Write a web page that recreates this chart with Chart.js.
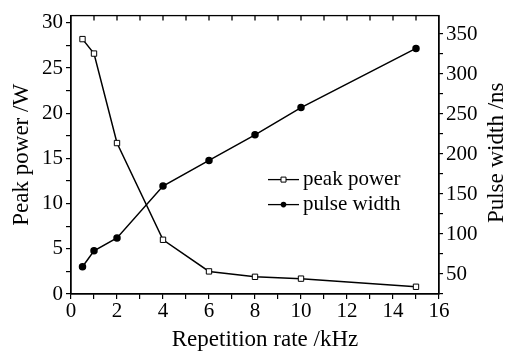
<!DOCTYPE html>
<html>
<head>
<meta charset="utf-8">
<script src="https://cdn.jsdelivr.net/npm/chart.js@4"></script>
<style>
  html, body { margin: 0; padding: 0; background: #fff; }
  #wrap { width: 507px; height: 352px; }
</style>
</head>
<body>
<div id="wrap"><canvas id="chart"></canvas></div>
<script>
// === DATA ===
const repRate = [0.5, 1, 2, 4, 6, 8, 10, 15];
const peakPower = [28.2, 26.6, 16.7, 6.0, 2.5, 1.9, 1.7, 0.8];
const pulseWidth = [59, 79, 95, 160, 192, 224, 258, 332];

const FONT = "'Liberation Serif', 'DejaVu Serif', serif";
const tickFont = { family: FONT, size: 21 };
const titleFont = { family: FONT, size: 23 };

// === FRAME, TOP TICKS, TITLES, LEGEND ===
const framePlugin = {
    id: "frame",
    afterDraw(chart) {
        const { ctx, chartArea: a, scales } = chart;
        ctx.save();
        ctx.strokeStyle = "#000";
        ctx.lineWidth = 1.3;
        ctx.strokeRect(a.left, a.top, a.right - a.left, a.bottom - a.top);

        // inward ticks on top edge
        for (let v = 1; v < 16; v++) {
            const x = scales.x.getPixelForValue(v);
            ctx.beginPath();
            ctx.moveTo(x, a.top);
            ctx.lineTo(x, a.top + 5);
            ctx.stroke();
        }

        ctx.fillStyle = "#000";
        ctx.font = titleFont.size + "px " + FONT;
        ctx.textAlign = "center";

        // bottom axis title
        ctx.textBaseline = "alphabetic";
        ctx.fillText("Repetition rate /kHz", (a.left + a.right) / 2 + 10, a.bottom + 52);

        // right axis title, reading bottom to top
        ctx.save();
        ctx.translate(a.right + 58, (a.top + a.bottom) / 2 - 2);
        ctx.rotate(-Math.PI / 2);
        ctx.textBaseline = "middle";
        ctx.fillText("Pulse width /ns", 0, 0);
        ctx.restore();

        // legend
        const lx = a.left + 197, ly = a.top + 164;
        chart.data.datasets.forEach((ds, i) => {
            const y = ly + i * 25;
            ctx.strokeStyle = "#000";
            ctx.lineWidth = 1.3;
            ctx.beginPath();
            ctx.moveTo(lx, y);
            ctx.lineTo(lx + 31, y);
            ctx.stroke();
            ctx.beginPath();
            if (i === 0) {
                ctx.fillStyle = "#fff";
                ctx.rect(lx + 13, y - 2.5, 5, 5);
                ctx.fill();
                ctx.lineWidth = 1;
                ctx.stroke();
            } else {
                ctx.fillStyle = "#000";
                ctx.arc(lx + 15.5, y, 2.8, 0, Math.PI * 2);
                ctx.fill();
            }
            ctx.fillStyle = "#000";
            ctx.font = "21px " + FONT;
            ctx.textAlign = "left";
            ctx.textBaseline = "middle";
            ctx.fillText(ds.label, lx + 35, y);
        });
        ctx.restore();
    }
};

new Chart(document.getElementById("chart"), {
    type: "line",
    data: {
        datasets: [{
            label: "peak power",
            data: repRate.map((x, i) => ({ x, y: peakPower[i] })),
            yAxisID: "y",
            borderColor: "#000",
            borderWidth: 1.5,
            pointStyle: "rect",
            pointRadius: 3.8,
            pointBackgroundColor: "#fff",
            pointBorderColor: "#000",
            pointBorderWidth: 1
        }, {
            label: "pulse width",
            data: repRate.map((x, i) => ({ x, y: pulseWidth[i] })),
            yAxisID: "y1",
            borderColor: "#000",
            borderWidth: 1.5,
            pointStyle: "circle",
            pointRadius: 3,
            pointBackgroundColor: "#000",
            pointBorderColor: "#000"
        }]
    },
    options: {
        responsive: true,
        maintainAspectRatio: false,
        animation: false,
        layout: { padding: { top: 13, left: 0, right: 0, bottom: 0 } },
        plugins: { legend: { display: false }, tooltip: { enabled: false } },
        scales: {
            x: {
                type: "linear",
                min: 0, max: 16,
                grid: { drawOnChartArea: false, color: "#000", tickLength: 5, lineWidth: 1.2 },
                border: { color: "#000", width: 1.3 },
                ticks: {
                    stepSize: 1, autoSkip: false, maxRotation: 0, padding: 0,
                    color: "#000", font: tickFont,
                    callback: v => (v % 2 === 0 ? v : "")
                },
                afterFit: s => { s.height = 58; }
            },
            y: {
                position: "left",
                min: 0, max: 30.8,
                grid: { drawOnChartArea: false, color: "#000", tickLength: 5, lineWidth: 1.2 },
                border: { color: "#000", width: 1.3 },
                ticks: {
                    stepSize: 2.5, includeBounds: false, autoSkip: false, padding: 3,
                    color: "#000", font: tickFont,
                    callback: v => (v % 5 === 0 ? v : "")
                },
                title: {
                    display: true, text: "Peak power /W", color: "#000",
                    font: titleFont, padding: { top: 8, bottom: 0 }
                },
                afterFit: s => { s.width = 71; }
            },
            y1: {
                position: "right",
                min: 25, max: 373,
                grid: { drawOnChartArea: false, color: "#000", tickLength: 4, lineWidth: 1.2 },
                border: { color: "#000", width: 1.3 },
                ticks: {
                    stepSize: 25, includeBounds: false, autoSkip: false, padding: 3,
                    color: "#000", font: tickFont,
                    callback: v => (v % 50 === 0 ? v : "")
                },
                afterFit: s => { s.width = 68; }
            }
        }
    },
    plugins: [framePlugin]
});
</script>
</body>
</html>
